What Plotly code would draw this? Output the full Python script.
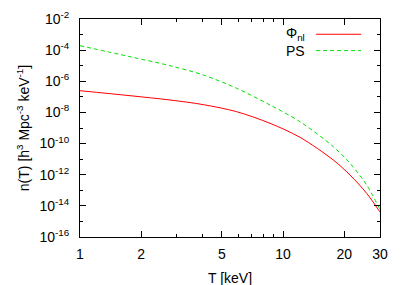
import plotly.graph_objects as go

# Data (log10 of n(T))
T_nl = [1.0, 1.763, 2.775, 4.046, 5.909, 8.62, 12.11, 17.67, 21.35, 25.79, 30.0]
logn_nl = [-6.605, -6.926, -7.202, -7.50, -7.954, -8.699, -9.60, -11.056,
           -12.019, -13.195, -14.40]

T_ps = [1.0, 1.763, 2.775, 4.046, 5.909, 8.62, 12.11, 17.67, 21.35, 25.79, 30.0]
logn_ps = [-3.715, -4.421, -4.999, -5.597, -6.451, -7.523, -8.596, -10.201,
           -11.268, -12.661, -14.24]

n_nl = [10 ** v for v in logn_nl]
n_ps = [10 ** v for v in logn_ps]

x_ticks = [1, 2, 5, 10, 20, 30]
x_minor = [3, 4, 6, 7, 8, 9]
y_exps = [-2, -4, -6, -8, -10, -12, -14, -16]
y_minor_exps = [-3, -5, -7, -9, -11, -13, -15]

FONT = "Liberation Sans, Arial, Helvetica, sans-serif"
FS = 14

fig = go.Figure()
fig.add_trace(go.Scatter(x=T_nl, y=n_nl, mode="lines", name="Φnl",
                         line=dict(color="#ff0000", width=1, shape="spline", smoothing=0.9)))
fig.add_trace(go.Scatter(x=T_ps, y=n_ps, mode="lines", name="PS",
                         line=dict(color="#00e000", width=1, dash="4px,3px", shape="spline",
                                   smoothing=0.9)))

# page body adds an 8px offset; figure spans 399x277 from (8,8)
fig.update_layout(
    width=399, height=277,
    margin=dict(l=72, r=27, t=11, b=48),
    paper_bgcolor="white", plot_bgcolor="white",
    showlegend=False,
    font=dict(family=FONT, size=FS, color="black"),
)
fig.update_xaxes(
    type="log", range=[0, 1.4771], automargin=False,
    tickmode="array", tickvals=x_ticks, ticktext=[str(v) for v in x_ticks],
    ticks="inside", ticklen=6, tickcolor="black", tickwidth=1,
    minor=dict(tickvals=x_minor, ticks="inside", ticklen=3, tickcolor="black", tickwidth=1),
    showline=True, linecolor="black", linewidth=1, mirror="allticks",
    showgrid=False, zeroline=False,
    ticklabelstandoff=4,
    tickfont=dict(size=FS),
)
fig.update_yaxes(
    type="log", range=[-16, -2], automargin=False,
    tickmode="array", tickvals=[10 ** e for e in y_exps],
    ticktext=["10<sup>%d</sup>" % e for e in y_exps],
    ticks="inside", ticklen=6, tickcolor="black", tickwidth=1,
    minor=dict(tickvals=[10 ** e for e in y_minor_exps], ticks="inside", ticklen=3,
               tickcolor="black", tickwidth=1),
    showline=True, linecolor="black", linewidth=1, mirror="allticks",
    showgrid=False, zeroline=False,
    ticklabelstandoff=7,
    title=dict(text="n(T) [h<sup>3</sup> Mpc<sup>-3</sup> keV<sup>-1</sup>]", standoff=6,
               font=dict(size=FS)),
    tickfont=dict(size=FS),
)

# x-axis title placed as annotation (lower than plotly's margin-constrained title)
fig.add_annotation(xref="paper", yref="paper", x=0.5, y=-0.188, text="T [keV]",
                   showarrow=False, xanchor="center", yanchor="middle",
                   font=dict(size=FS, family=FONT))

# gnuplot-style legend: text right-aligned, sample to the right
leg = [("Φ<sub>nl</sub>", "#ff0000", "solid", 0.93), ("PS", "#00e000", "4px,3px", 0.855)]
for text, col, dash, yy in leg:
    fig.add_annotation(xref="paper", yref="paper", x=0.755, y=yy, text=text,
                       showarrow=False, xanchor="right", yanchor="middle",
                       font=dict(size=FS, family=FONT))
    fig.add_shape(type="line", xref="paper", yref="paper", x0=0.787, x1=0.937, y0=yy, y1=yy,
                  line=dict(color=col, width=1, dash=dash))

fig.write_html("out.html")
